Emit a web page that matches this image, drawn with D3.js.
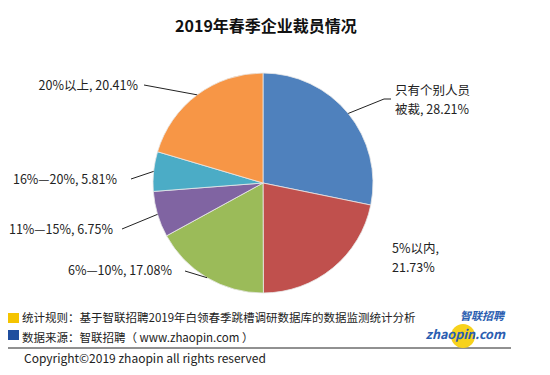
<!DOCTYPE html>
<html>
<head>
<meta charset="utf-8">
<script src="https://cdn.jsdelivr.net/npm/d3@7"></script>
<style>
  body { margin: 0; background: #fff; }
  text { font-family: "Noto Sans CJK SC", "Noto Sans", sans-serif; }
</style>
</head>
<body>
<div id="container"></div>
<script>
let w = 550;
let h = 375;

// data
let categories = ['只有个别人员被裁', '5%以内', '6%—10%', '11%—15%', '16%—20%', '20%以上'];
let values = [28.21, 21.73, 17.08, 6.75, 5.81, 20.41];
let colors = ['#4f81bd', '#c0504d', '#9bbb59', '#8064a2', '#4bacc6', '#f79646'];
let labelLines = [
  ['只有个别人员', '被裁, 28.21%'],
  ['5%以内,', '21.73%'],
  ['6%—10%, 17.08%'],
  ['11%—15%, 6.75%'],
  ['16%—20%, 5.81%'],
  ['20%以上, 20.41%']
];

let cx = 263, cy = 183, r = 110;

// label text anchors (x, y of first line), and where the leader line stops
let labelPos = [
  {x: 395, y: 95, anchor: 'start', line: true, lx: 384, ly: 99, hx: 391},
  {x: 392, y: 253, anchor: 'start', line: false},
  {x: 172, y: 275, anchor: 'end', line: true, lx: 185, ly: 271},
  {x: 113, y: 234, anchor: 'end', line: true, lx: 122, ly: 229},
  {x: 117, y: 184, anchor: 'end', line: true, lx: 131, ly: 179},
  {x: 138, y: 90, anchor: 'end', line: true, lx: 144, ly: 85}
];
let lineGap = 18.5;

let viz = d3.select('#container')
  .append('svg')
    .attr('width', w)
    .attr('height', h)
    .style('background-color', 'white')
;

viz.append('text')
  .attr('x', 266)
  .attr('y', 32)
  .attr('text-anchor', 'middle')
  .attr('font-size', '16px')
  .attr('font-weight', 'bold')
  .attr('fill', '#111')
  .text('2019年春季企业裁员情况');

let pie = d3.pie().sort(null).value(function(d){ return d; });
let arcs = pie(values);
let arc = d3.arc().innerRadius(0).outerRadius(r);
let edge = d3.arc().innerRadius(r).outerRadius(r);

let pieGroup = viz.append('g')
  .attr('transform', 'translate(' + cx + ',' + cy + ')');

pieGroup.selectAll('path').data(arcs).enter().append('path')
  .attr('d', arc)
  .attr('fill', function(d, i){ return colors[i]; })
  .attr('stroke', '#e8e8e8')
  .attr('stroke-width', 0.8)
;

// leader lines
arcs.forEach(function(d, i){
  let p = labelPos[i];
  if (!p.line) return;
  let c = edge.centroid(d);
  let pts = [[cx + c[0], cy + c[1]], [p.lx, p.ly]];
  if (p.hx) pts.push([p.hx, p.ly]);
  viz.append('path')
    .attr('d', d3.line()(pts))
    .attr('fill', 'none')
    .attr('stroke', '#222')
    .attr('stroke-width', 1);
});

// labels
let textGroup = viz.append('g');
labelLines.forEach(function(lines, i){
  let p = labelPos[i];
  lines.forEach(function(s, j){
    textGroup.append('text')
      .attr('x', p.x)
      .attr('y', p.y + j * lineGap)
      .attr('text-anchor', p.anchor)
      .attr('font-size', '12.5px')
      .attr('fill', '#222')
      .text(s);
  });
});

// footer
viz.append('rect').attr('x', 8).attr('y', 313).attr('width', 11).attr('height', 10).attr('fill', '#f5c400');
viz.append('rect').attr('x', 8).attr('y', 330).attr('width', 11).attr('height', 10).attr('fill', '#1f4e9e');

viz.append('text')
  .attr('x', 22).attr('y', 322)
  .attr('font-size', '11.5px').attr('fill', '#222')
  .text('统计规则：基于智联招聘2019年白领春季跳槽调研数据库的数据监测统计分析');
viz.append('text')
  .attr('x', 22).attr('y', 342)
  .attr('font-size', '11.5px').attr('fill', '#222')
  .text('数据来源：智联招聘（ www.zhaopin.com ）');

viz.append('line')
  .attr('x1', 8).attr('x2', 511)
  .attr('y1', 348).attr('y2', 348)
  .attr('stroke', '#222').attr('stroke-width', 1);

viz.append('text')
  .attr('x', 24).attr('y', 363)
  .attr('font-size', '12px').attr('fill', '#222')
  .text('Copyright©2019 zhaopin all rights reserved');

// logo
let logo = viz.append('g');
logo.append('circle').attr('cx', 463).attr('cy', 336).attr('r', 12).attr('fill', '#f7d21c');
logo.append('text')
  .attr('x', 504).attr('y', 320)
  .attr('text-anchor', 'end')
  .attr('font-size', '11px').attr('font-weight', 'bold').attr('font-style', 'italic')
  .attr('fill', '#2a5db0')
  .text('智联招聘');
logo.append('text')
  .attr('x', 505).attr('y', 339)
  .attr('text-anchor', 'end')
  .attr('font-family', 'Liberation Sans, Arial, sans-serif')
  .attr('font-size', '12.5px').attr('font-weight', 'bold').attr('font-style', 'italic')
  .attr('fill', '#2a5db0')
  .text('zhaopin.com');
</script>
</body>
</html>
